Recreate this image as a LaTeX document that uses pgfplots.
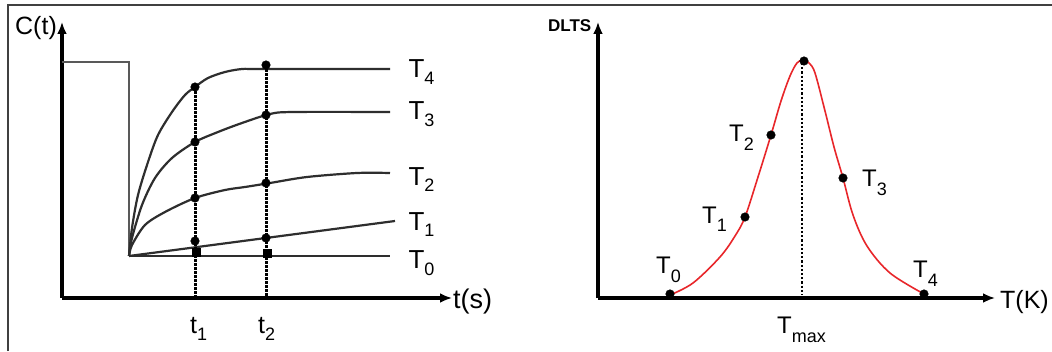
\documentclass[border=0pt]{standalone}
\usepackage{pgfplots}
\pgfplotsset{compat=1.18}
\usepackage{fontspec}
\setmainfont{Liberation Sans}
\usetikzlibrary{arrows.meta}
\definecolor{curve}{HTML}{2E2E2E}
\definecolor{redc}{HTML}{E8262A}
\newcommand\subL[1]{\raisebox{-7pt}{\fontsize{18}{18}\selectfont #1}}
\newcommand\subR[1]{\raisebox{-9pt}{\fontsize{18}{18}\selectfont #1}}
\begin{document}
\begin{tikzpicture}[x=1pt,y=1pt]
\useasboundingbox (0,0) rectangle (1052,351);
\fill[white] (0,0) rectangle (1052,351);
\draw[line width=1.3pt, black!75] (8,0) -- (8,346) -- (1052,346);
% ---------------- left chart ----------------
\begin{axis}[at={(62pt,53pt)}, anchor=south west, scale only axis,
  width=390pt, height=276pt, xmin=62, xmax=452, ymin=53, ymax=329,
  axis lines=left,
  axis line style={line width=3.5pt, black, -{Latex[length=12pt,width=10pt]}},
  xtick=\empty, ytick=\empty, clip=false]
% step
\addplot[line width=2.2pt, black!65] coordinates {(62,289) (129,289) (129,95)};
% T0
\addplot[line width=2.2pt, curve] coordinates {(129,95) (390,95)};
% T1
\addplot[line width=2.2pt, curve] coordinates {(129,95) (395,130)};
% T2
\addplot[line width=2.2pt, curve, smooth] coordinates {(129,95) (132,106) (145,126) (165,139) (195,153) (225,161) (245,164) (270,168) (307,174) (357,178) (390,178)};
% T3
\addplot[line width=2.2pt, curve, smooth] coordinates {(129,95) (132,113) (142,146) (155,173) (172,193) (195,209) (218,219) (242,228) (270,237) (293,239) (390,239)};
% T4
\addplot[line width=2.2pt, curve, smooth] coordinates {(129,95) (132,123) (138,156) (148,189) (158,216) (172,239) (185,256) (195,264) (208,273) (225,279) (242,282) (260,282) (390,282)};
% dashed verticals
\addplot[line width=3pt, black, dash pattern=on 3pt off 1pt] coordinates {(195,264) (195,53)};
\addplot[line width=3pt, black, dash pattern=on 3pt off 1pt] coordinates {(266,286) (266,53)};
% dots
\addplot[only marks, mark=*, mark size=4.3pt, black] coordinates {(195,264) (195,209) (195,153) (195,110) (266,286) (266,236) (266,168) (266,113)};
\addplot[only marks, mark=square*, mark size=4pt, black] coordinates {(196,99) (267,98)};
% labels
\node[anchor=base west, font=\fontsize{26}{26}\selectfont] at (axis cs:405,273) {T\subL{4}};
\node[anchor=base west, font=\fontsize{26}{26}\selectfont] at (axis cs:405,231) {T\subL{3}};
\node[anchor=base west, font=\fontsize{26}{26}\selectfont] at (axis cs:405,166) {T\subL{2}};
\node[anchor=base west, font=\fontsize{26}{26}\selectfont] at (axis cs:405,121) {T\subL{1}};
\node[anchor=base west, font=\fontsize{26}{26}\selectfont] at (axis cs:405,83) {T\subL{0}};
\node[anchor=base west, font=\fontsize{25}{25}\selectfont, inner sep=0pt] at (axis cs:190,18) {t\subL{1}};
\node[anchor=base west, font=\fontsize{25}{25}\selectfont, inner sep=0pt] at (axis cs:258,18) {t\subL{2}};
\node[anchor=base west, font=\fontsize{25}{25}\selectfont, inner sep=0pt] at (axis cs:15,316) {C(t)};
\node[anchor=base west, font=\fontsize{27}{27}\selectfont, inner sep=0pt] at (axis cs:453,43) {t(s)};
\end{axis}
% ---------------- right chart ----------------
\begin{axis}[at={(598pt,53pt)}, anchor=south west, scale only axis,
  width=397pt, height=276pt, xmin=598, xmax=995, ymin=53, ymax=329,
  axis lines=left,
  axis line style={line width=3.5pt, black, -{Latex[length=12pt,width=10pt]}},
  xtick=\empty, ytick=\empty, clip=false]
\addplot[line width=2.2pt, black, dotted] coordinates {(802,288) (802,56)};
\addplot[line width=1.6pt, redc, smooth, tension=0.55] coordinates {(670,56) (693,68) (720,94) (735,115) (745,134) (758,174) (771,216) (781,250) (790,275) (797,288) (803,291) (809,288) (815,278) (825,240) (834,204) (843,173) (853,136) (867,105) (890,78) (924,57)};
\addplot[only marks, mark=*, mark size=4.3pt, black] coordinates {(670,57) (745,134) (771,216) (804,290) (843,173) (924,57)};
\node[anchor=base west, font=\fontsize{24}{24}\selectfont, inner sep=0pt] at (axis cs:656,78) {T\subR{0}};
\node[anchor=base west, font=\fontsize{24}{24}\selectfont, inner sep=0pt] at (axis cs:702,128) {T\subR{1}};
\node[anchor=base west, font=\fontsize{24}{24}\selectfont, inner sep=0pt] at (axis cs:729,209) {T\subR{2}};
\node[anchor=base west, font=\fontsize{24}{24}\selectfont, inner sep=0pt] at (axis cs:862,164) {T\subR{3}};
\node[anchor=base west, font=\fontsize{24}{24}\selectfont, inner sep=0pt] at (axis cs:913,74) {T\subR{4}};
\node[anchor=base west, font=\fontsize{24}{24}\selectfont, inner sep=0pt] at (axis cs:777,18) {T\subR{max}};
\node[anchor=base west, font=\fontsize{17}{17}\selectfont\bfseries, inner sep=0pt] at (axis cs:548,319) {DLTS};
\node[anchor=base west, font=\fontsize{25}{25}\selectfont, inner sep=0pt] at (axis cs:1000,43) {T(K)};
\end{axis}
\end{tikzpicture}
\end{document}
